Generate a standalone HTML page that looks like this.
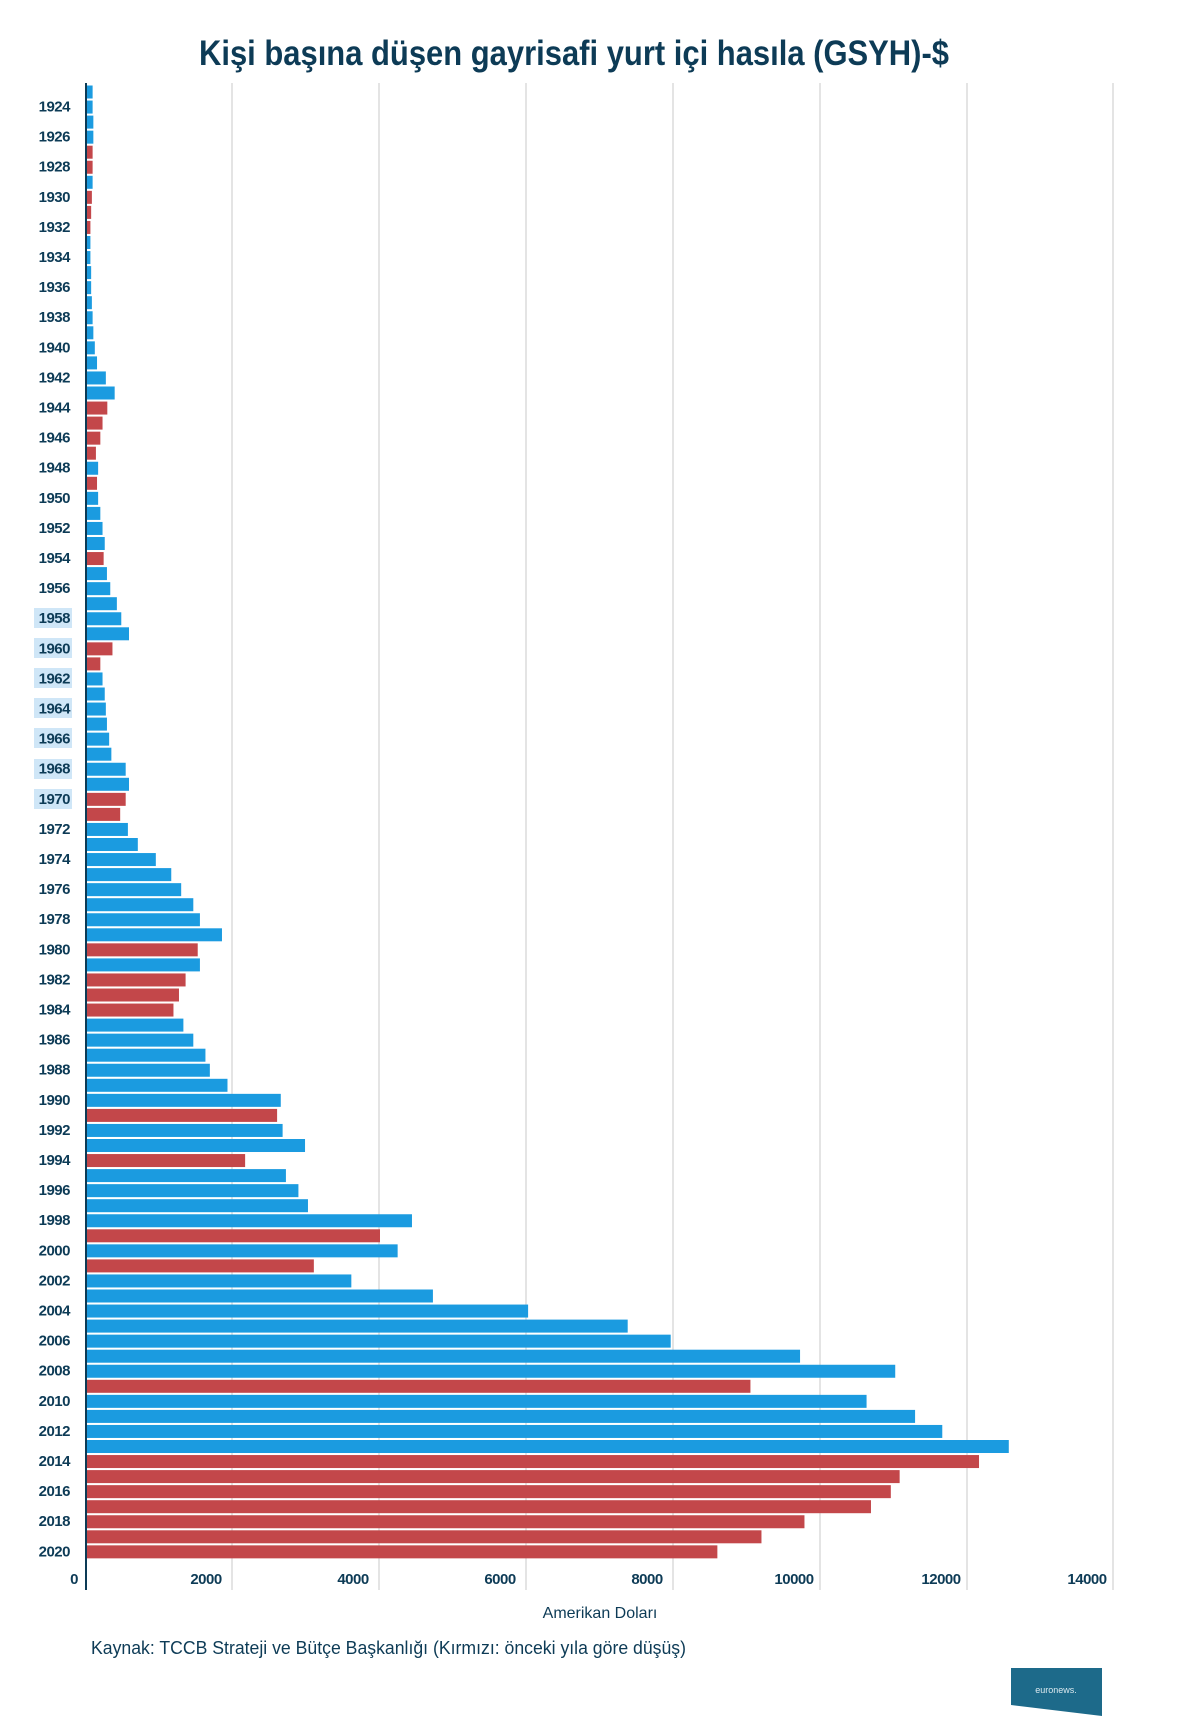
<!DOCTYPE html>
<html><head><meta charset="utf-8"><style>
html,body{margin:0;padding:0;background:#fff}
svg{display:block}
text{font-family:"Liberation Sans",sans-serif}
.yl{font-size:15px;font-weight:bold;fill:#0d3b56;text-anchor:end;dominant-baseline:central;letter-spacing:-0.5px}
.xl{font-size:15px;font-weight:bold;fill:#0d3b56;text-anchor:middle;letter-spacing:-0.5px}
.b{fill:#1b9be0}.r{fill:#c3474a}
</style></head><body>
<svg width="1200" height="1732" viewBox="0 0 1200 1732">
<text x="199" y="65" textLength="750" lengthAdjust="spacingAndGlyphs" style="font-size:35px;font-weight:bold;fill:#0d3b56">Kişi başına düşen gayrisafi yurt içi hasıla (GSYH)-$</text>
<g stroke="#dcdcdc" stroke-width="1.5">
<line x1="232" y1="83" x2="232" y2="1590"/><line x1="379" y1="83" x2="379" y2="1590"/><line x1="526" y1="83" x2="526" y2="1590"/><line x1="673" y1="83" x2="673" y2="1590"/><line x1="820" y1="83" x2="820" y2="1590"/><line x1="967" y1="83" x2="967" y2="1590"/><line x1="1113" y1="83" x2="1113" y2="1590"/>
</g>
<g transform="translate(86,85.5) scale(0.0735,15.05)">
<rect class="b" x="0" y="0" width="90" height="0.864"/>
<rect class="b" x="0" y="1" width="90" height="0.864"/>
<rect class="b" x="0" y="2" width="100" height="0.864"/>
<rect class="b" x="0" y="3" width="100" height="0.864"/>
<rect class="r" x="0" y="4" width="90" height="0.864"/>
<rect class="r" x="0" y="5" width="90" height="0.864"/>
<rect class="b" x="0" y="6" width="90" height="0.864"/>
<rect class="r" x="0" y="7" width="80" height="0.864"/>
<rect class="r" x="0" y="8" width="70" height="0.864"/>
<rect class="r" x="0" y="9" width="60" height="0.864"/>
<rect class="b" x="0" y="10" width="60" height="0.864"/>
<rect class="b" x="0" y="11" width="60" height="0.864"/>
<rect class="b" x="0" y="12" width="70" height="0.864"/>
<rect class="b" x="0" y="13" width="70" height="0.864"/>
<rect class="b" x="0" y="14" width="80" height="0.864"/>
<rect class="b" x="0" y="15" width="90" height="0.864"/>
<rect class="b" x="0" y="16" width="100" height="0.864"/>
<rect class="b" x="0" y="17" width="120" height="0.864"/>
<rect class="b" x="0" y="18" width="150" height="0.864"/>
<rect class="b" x="0" y="19" width="270" height="0.864"/>
<rect class="b" x="0" y="20" width="390" height="0.864"/>
<rect class="r" x="0" y="21" width="290" height="0.864"/>
<rect class="r" x="0" y="22" width="225" height="0.864"/>
<rect class="r" x="0" y="23" width="195" height="0.864"/>
<rect class="r" x="0" y="24" width="135" height="0.864"/>
<rect class="b" x="0" y="25" width="165" height="0.864"/>
<rect class="r" x="0" y="26" width="150" height="0.864"/>
<rect class="b" x="0" y="27" width="165" height="0.864"/>
<rect class="b" x="0" y="28" width="195" height="0.864"/>
<rect class="b" x="0" y="29" width="225" height="0.864"/>
<rect class="b" x="0" y="30" width="255" height="0.864"/>
<rect class="r" x="0" y="31" width="240" height="0.864"/>
<rect class="b" x="0" y="32" width="285" height="0.864"/>
<rect class="b" x="0" y="33" width="330" height="0.864"/>
<rect class="b" x="0" y="34" width="420" height="0.864"/>
<rect class="b" x="0" y="35" width="480" height="0.864"/>
<rect class="b" x="0" y="36" width="585" height="0.864"/>
<rect class="r" x="0" y="37" width="360" height="0.864"/>
<rect class="r" x="0" y="38" width="195" height="0.864"/>
<rect class="b" x="0" y="39" width="225" height="0.864"/>
<rect class="b" x="0" y="40" width="255" height="0.864"/>
<rect class="b" x="0" y="41" width="270" height="0.864"/>
<rect class="b" x="0" y="42" width="285" height="0.864"/>
<rect class="b" x="0" y="43" width="315" height="0.864"/>
<rect class="b" x="0" y="44" width="345" height="0.864"/>
<rect class="b" x="0" y="45" width="540" height="0.864"/>
<rect class="b" x="0" y="46" width="585" height="0.864"/>
<rect class="r" x="0" y="47" width="540" height="0.864"/>
<rect class="r" x="0" y="48" width="465" height="0.864"/>
<rect class="b" x="0" y="49" width="570" height="0.864"/>
<rect class="b" x="0" y="50" width="705" height="0.864"/>
<rect class="b" x="0" y="51" width="950" height="0.864"/>
<rect class="b" x="0" y="52" width="1160" height="0.864"/>
<rect class="b" x="0" y="53" width="1295" height="0.864"/>
<rect class="b" x="0" y="54" width="1460" height="0.864"/>
<rect class="b" x="0" y="55" width="1550" height="0.864"/>
<rect class="b" x="0" y="56" width="1850" height="0.864"/>
<rect class="r" x="0" y="57" width="1520" height="0.864"/>
<rect class="b" x="0" y="58" width="1550" height="0.864"/>
<rect class="r" x="0" y="59" width="1355" height="0.864"/>
<rect class="r" x="0" y="60" width="1265" height="0.864"/>
<rect class="r" x="0" y="61" width="1190" height="0.864"/>
<rect class="b" x="0" y="62" width="1325" height="0.864"/>
<rect class="b" x="0" y="63" width="1460" height="0.864"/>
<rect class="b" x="0" y="64" width="1625" height="0.864"/>
<rect class="b" x="0" y="65" width="1685" height="0.864"/>
<rect class="b" x="0" y="66" width="1925" height="0.864"/>
<rect class="b" x="0" y="67" width="2650" height="0.864"/>
<rect class="r" x="0" y="68" width="2600" height="0.864"/>
<rect class="b" x="0" y="69" width="2675" height="0.864"/>
<rect class="b" x="0" y="70" width="2980" height="0.864"/>
<rect class="r" x="0" y="71" width="2165" height="0.864"/>
<rect class="b" x="0" y="72" width="2720" height="0.864"/>
<rect class="b" x="0" y="73" width="2890" height="0.864"/>
<rect class="b" x="0" y="74" width="3020" height="0.864"/>
<rect class="b" x="0" y="75" width="4435" height="0.864"/>
<rect class="r" x="0" y="76" width="4000" height="0.864"/>
<rect class="b" x="0" y="77" width="4240" height="0.864"/>
<rect class="r" x="0" y="78" width="3100" height="0.864"/>
<rect class="b" x="0" y="79" width="3610" height="0.864"/>
<rect class="b" x="0" y="80" width="4720" height="0.864"/>
<rect class="b" x="0" y="81" width="6015" height="0.864"/>
<rect class="b" x="0" y="82" width="7370" height="0.864"/>
<rect class="b" x="0" y="83" width="7955" height="0.864"/>
<rect class="b" x="0" y="84" width="9715" height="0.864"/>
<rect class="b" x="0" y="85" width="11010" height="0.864"/>
<rect class="r" x="0" y="86" width="9040" height="0.864"/>
<rect class="b" x="0" y="87" width="10620" height="0.864"/>
<rect class="b" x="0" y="88" width="11280" height="0.864"/>
<rect class="b" x="0" y="89" width="11650" height="0.864"/>
<rect class="b" x="0" y="90" width="12555" height="0.864"/>
<rect class="r" x="0" y="91" width="12150" height="0.864"/>
<rect class="r" x="0" y="92" width="11070" height="0.864"/>
<rect class="r" x="0" y="93" width="10950" height="0.864"/>
<rect class="r" x="0" y="94" width="10680" height="0.864"/>
<rect class="r" x="0" y="95" width="9775" height="0.864"/>
<rect class="r" x="0" y="96" width="9190" height="0.864"/>
<rect class="r" x="0" y="97" width="8590" height="0.864"/>
</g>
<line x1="86" y1="83" x2="86" y2="1590" stroke="#0d3b56" stroke-width="2"/>
<g fill="#cfe6f7">
<rect x="34" y="608" width="38" height="20"/><rect x="34" y="638" width="38" height="20"/><rect x="34" y="668" width="38" height="20"/><rect x="34" y="698" width="38" height="20"/><rect x="34" y="728" width="38" height="20"/><rect x="34" y="759" width="38" height="20"/><rect x="34" y="789" width="38" height="20"/>
</g>
<g class="yl">
<text class="yl" x="70" y="107">1924</text><text class="yl" x="70" y="137.1">1926</text><text class="yl" x="70" y="167.2">1928</text><text class="yl" x="70" y="197.3">1930</text><text class="yl" x="70" y="227.4">1932</text><text class="yl" x="70" y="257.5">1934</text><text class="yl" x="70" y="287.6">1936</text><text class="yl" x="70" y="317.7">1938</text><text class="yl" x="70" y="347.8">1940</text><text class="yl" x="70" y="377.9">1942</text><text class="yl" x="70" y="408">1944</text><text class="yl" x="70" y="438.1">1946</text><text class="yl" x="70" y="468.2">1948</text><text class="yl" x="70" y="498.3">1950</text><text class="yl" x="70" y="528.4">1952</text><text class="yl" x="70" y="558.5">1954</text><text class="yl" x="70" y="588.6">1956</text><text class="yl" x="70" y="618.7">1958</text><text class="yl" x="70" y="648.8">1960</text><text class="yl" x="70" y="678.9">1962</text><text class="yl" x="70" y="709">1964</text><text class="yl" x="70" y="739.1">1966</text><text class="yl" x="70" y="769.2">1968</text><text class="yl" x="70" y="799.3">1970</text><text class="yl" x="70" y="829.4">1972</text><text class="yl" x="70" y="859.5">1974</text><text class="yl" x="70" y="889.6">1976</text><text class="yl" x="70" y="919.7">1978</text><text class="yl" x="70" y="949.8">1980</text><text class="yl" x="70" y="979.9">1982</text><text class="yl" x="70" y="1010">1984</text><text class="yl" x="70" y="1040.1">1986</text><text class="yl" x="70" y="1070.2">1988</text><text class="yl" x="70" y="1100.3">1990</text><text class="yl" x="70" y="1130.4">1992</text><text class="yl" x="70" y="1160.5">1994</text><text class="yl" x="70" y="1190.6">1996</text><text class="yl" x="70" y="1220.7">1998</text><text class="yl" x="70" y="1250.8">2000</text><text class="yl" x="70" y="1280.9">2002</text><text class="yl" x="70" y="1311">2004</text><text class="yl" x="70" y="1341.1">2006</text><text class="yl" x="70" y="1371.2">2008</text><text class="yl" x="70" y="1401.3">2010</text><text class="yl" x="70" y="1431.4">2012</text><text class="yl" x="70" y="1461.5">2014</text><text class="yl" x="70" y="1491.6">2016</text><text class="yl" x="70" y="1521.7">2018</text><text class="yl" x="70" y="1551.8">2020</text>
</g>
<text class="xl" x="74" y="1584">0</text>
<text class="xl" x="206" y="1584">2000</text>
<text class="xl" x="353" y="1584">4000</text>
<text class="xl" x="500" y="1584">6000</text>
<text class="xl" x="647" y="1584">8000</text>
<text class="xl" x="794" y="1584">10000</text>
<text class="xl" x="941" y="1584">12000</text>
<text class="xl" x="1087" y="1584">14000</text>
<text x="600" y="1618" text-anchor="middle" style="font-size:16px;fill:#0d3b56">Amerikan Doları</text>
<text x="91" y="1654" textLength="595" lengthAdjust="spacingAndGlyphs" style="font-size:18px;fill:#0d3b56">Kaynak: TCCB Strateji ve Bütçe Başkanlığı (Kırmızı: önceki yıla göre düşüş)</text>
<polygon points="1011,1668 1102,1668 1102,1716 1011,1705" fill="#1d6a8a"/>
<text x="1056" y="1693" text-anchor="middle" style="font-size:9px;fill:#dbe8ee">euronews.</text>
</svg>
</body></html>
